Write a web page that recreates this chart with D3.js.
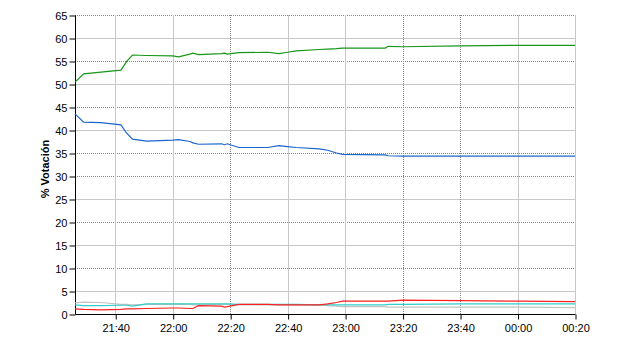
<!DOCTYPE html>
<html><head><meta charset="utf-8">
<script src="https://cdn.jsdelivr.net/npm/d3@7"></script>
<style>body{margin:0;background:#fff}svg{display:block}text{font-family:"Liberation Sans",Arial,sans-serif}</style>
</head><body><svg id="c" width="640" height="350"></svg>
<script>
const times = ["21:26","21:29","21:35","21:42","21:44","21:46","21:51","22:00","22:02","22:06","22:07","22:09","22:17","22:18","22:19","22:23","22:33","22:37","22:40","22:43","22:51","22:54","22:57","22:59","23:14","23:15","23:20","23:40","00:00","00:20"];
const green = [50.4,52.2,52.6,53.0,54.9,56.3,56.2,56.1,55.9,56.5,56.7,56.4,56.6,56.7,56.5,56.8,56.9,56.6,56.9,57.2,57.5,57.6,57.7,57.8,57.8,58.2,58.1,58.3,58.4,58.4];
const blue  = [43.5,41.7,41.6,41.1,39.3,38.0,37.6,37.8,37.9,37.5,37.2,36.9,37.0,36.8,37.0,36.2,36.2,36.6,36.4,36.2,35.9,35.6,35.0,34.7,34.6,34.4,34.3,34.3,34.3,34.3];
const red   = [1.1,1.0,0.9,1.0,1.1,1.1,1.2,1.3,1.3,1.2,1.2,1.8,1.7,1.5,1.6,2.1,2.1,2.0,2.0,2.0,2.0,2.2,2.5,2.8,2.8,2.8,3.0,2.9,2.8,2.7];
const cyan  = [2.0,1.8,1.8,1.9,1.9,1.7,2.2,2.2,2.2,2.2,2.2,2.2,2.2,2.2,2.2,2.1,2.1,2.1,2.1,2.1,2.0,2.0,2.0,2.0,2.0,2.1,2.1,2.2,2.2,2.2];
const gray  = [2.4,2.6,2.5,2.1,2.1,2.0,2.1,2.1,2.1,2.1,2.0,2.0,2.1,2.1,2.1,2.0,2.0,2.0,2.0,2.0,2.0,1.8,1.7,1.6,1.6,1.5,1.5,1.5,1.5,1.4];
const xTickLabels = ["21:40","22:00","22:20","22:40","23:00","23:20","23:40","00:00","00:20"];
const xTickDotted = ["22:20","23:20","23:40"];
const yTicks = [0,5,10,15,20,25,30,35,40,45,50,55,60,65];
const yTickDotted = [10,20,30,35,45,55,65];
const yLabel = "% Votación";

function toDate(s){const [h,m]=s.split(":").map(Number);return new Date(2000,0,h<12?2:1,h,m);}
const W=640,H=350, L=75,R=575,T=15,B=314;
const x=d3.scaleTime().domain([toDate(times[0]),toDate(times[times.length-1])]).range([L,R]);
const y=d3.scaleLinear().domain([0,65]).range([B,T]);
const svg=d3.select("#c");

// horizontal gridlines
svg.append("g").selectAll("line").data(yTicks.filter(v=>v>0)).join("line")
  .attr("x1",L).attr("x2",R).attr("y1",d=>y(d)+0.5).attr("y2",d=>y(d)+0.5)
  .attr("stroke",d=>yTickDotted.includes(d)?"#888":"#c8c8c8")
  .attr("stroke-dasharray",d=>yTickDotted.includes(d)?"1,1":null);
// vertical gridlines
svg.append("g").selectAll("line").data(xTickLabels).join("line")
  .attr("x1",d=>Math.round(x(toDate(d)))+0.5).attr("x2",d=>Math.round(x(toDate(d)))+0.5)
  .attr("y1",T).attr("y2",B)
  .attr("stroke",d=>xTickDotted.includes(d)?"#888":"#c8c8c8")
  .attr("stroke-dasharray",d=>xTickDotted.includes(d)?"1,1":null);

// axes
const yAxis=d3.axisLeft(y).tickValues(yTicks).tickSize(6).tickPadding(2);
const gy=svg.append("g").attr("transform",`translate(${L+0.5},0.5)`).call(yAxis);
const xAxis=d3.axisBottom(x).tickValues(xTickLabels.map(toDate)).tickFormat(d3.timeFormat("%H:%M")).tickSize(5).tickPadding(5);
const gx=svg.append("g").attr("transform",`translate(0.5,${B+0.5})`).call(xAxis);
[gx,gy].forEach(g=>{g.selectAll("text").attr("font-size",11).attr("fill","#000").attr("font-family","'Liberation Sans',Arial,sans-serif");g.selectAll("line,path").attr("stroke","#000");});
gy.select(".domain").attr("d",`M0,${T}V${B}`);
gx.select(".domain").attr("d",`M${L},0H${R}`);

svg.append("text").attr("transform",`translate(49,169) rotate(-90)`).attr("text-anchor","middle")
  .attr("font-size",11).attr("font-weight","bold").text(yLabel);

const line=d3.line().x((d,i)=>x(toDate(times[i]))).y(d=>y(d));
const series=[{v:gray,c:"#c4c4c4"},{v:cyan,c:"#33cccc"},{v:red,c:"#ff2020"},{v:blue,c:"#1a66cc"},{v:green,c:"#1a961a"}];
svg.append("g").selectAll("path").data(series).join("path")
  .attr("d",d=>line(d.v)).attr("fill","none").attr("stroke",d=>d.c).attr("stroke-width",1.2);
</script></body></html>
